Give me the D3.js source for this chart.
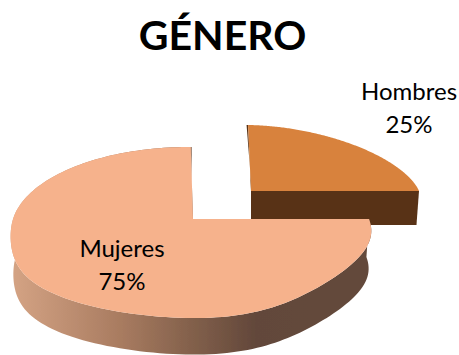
<!DOCTYPE html>
<html><head><meta charset="utf-8">
<script src="https://cdn.jsdelivr.net/npm/d3@7/dist/d3.min.js"></script>
<style>html,body{margin:0;padding:0;background:#fff;overflow:hidden}svg{display:block}</style>
</head><body><svg id="c" width="459" height="355"></svg>
<script>
const categories = ["Hombres", "Mujeres"];
const values = [25, 75];
const labelPercents = ["25%", "75%"];
const chartTitle = "GÉNERO";

const topColors = ["#d8823c", "#f6b28c"];
const wallColors = ["#593316", "#5f4435"];

// geometry of each exploded slice in the tilted-view projection
const sliceGeom = [
  {cx:251, cy:191, A:168, B:76.4, k:.158, s:3.4, m:0, depth:34, e:1.12, q:0},
  {cx:193, cy:219, A:178, B:83.4, k:.158, s:2.6, m:-.011, depth:38, e:1, q:127}
];
const labelPos = [[409,100],[122,257]];

const svg = d3.select("#c");
const defs = svg.append("defs");
const grad = defs.append("linearGradient").attr("id","rim")
  .attr("gradientUnits","userSpaceOnUse").attr("x1",15).attr("x2",370).attr("y1",0).attr("y2",0);
[[0,"#d3a283"],[.3,"#a87b60"],[.5,"#82604b"],[.68,"#62473a"],[1,"#644a3b"]]
  .forEach(([o,c])=>grad.append("stop").attr("offset",o).attr("stop-color",c));
defs.append("filter").attr("id","soft").append("feGaussianBlur").attr("stdDeviation",0.45);

const marks = svg.append("g").attr("filter","url(#soft)");
const pie = d3.pie().sort(null).value(d=>d)(values);

function project(g, u, v, h, sc){
  const w = 1 - g.k*v - g.m*u;
  const skew = v > 0 ? -g.q*v*v*v*(1-v) : 0;
  return [g.cx + skew + sc*(g.A*u + g.s*v)/w, g.cy + h + sc*g.B*v/w];
}
const warp = (t,e) => Math.sign(t)*Math.pow(Math.abs(t),e);
function arcPts(g, a0, a1, h, sc){
  const n = 160;
  return d3.range(n+1).map(i=>{
    const a = a0 + (a1-a0)*i/n;
    return project(g, warp(Math.sin(a),g.e), warp(-Math.cos(a),g.e), h, sc);
  });
}
const line = d3.line();

// Hombres first (behind), then Mujeres
pie.forEach((p,i)=>{
  const g = sliceGeom[i];
  const sc2 = 0.985;
  const apexT = project(g,0,0,0,1), apexB = project(g,0,0,g.depth,sc2);
  const top = arcPts(g,p.startAngle,p.endAngle,0,1);
  const bot = arcPts(g,p.startAngle,p.endAngle,g.depth,sc2);
  const n = top.length-1;

  if(i===0){
    marks.append("path").attr("d",line([apexT,top[n],bot[n],apexB])+"Z").attr("fill",wallColors[0]);
    marks.append("path").attr("d",line([top[0],apexT,[apexT[0]+0.8,apexT[1]],[top[0][0]-1.5,top[0][1]]])+"Z").attr("fill",wallColors[0]);
  } else {
    marks.append("path").attr("d",line(top.concat(bot.slice().reverse()))+"Z").attr("fill","url(#rim)");
    marks.append("path").attr("d",line([top[n],apexT,[apexT[0]-1,apexT[1]],[top[n][0]+1,top[n][1]]])+"Z").attr("fill","#8a6a55");
  }
  marks.append("path").attr("d",line([apexT].concat(top))+"Z").attr("fill",topColors[i]);
});

const font = "Lato, 'Open Sans', sans-serif";
svg.append("text").attr("x",222.5).attr("y",50).attr("text-anchor","middle")
  .attr("font-family",font).attr("font-weight",700).attr("font-size",41).attr("fill","#000").text(chartTitle);

categories.forEach((c,i)=>{
  const [x,y]=labelPos[i];
  const t=svg.append("text").attr("text-anchor","middle").attr("font-family",font).attr("font-size",24).attr("fill","#000");
  t.append("tspan").attr("x",x).attr("y",y).text(c);
  t.append("tspan").attr("x",x).attr("y",y+33).text(labelPercents[i]);
});
</script></body></html>
